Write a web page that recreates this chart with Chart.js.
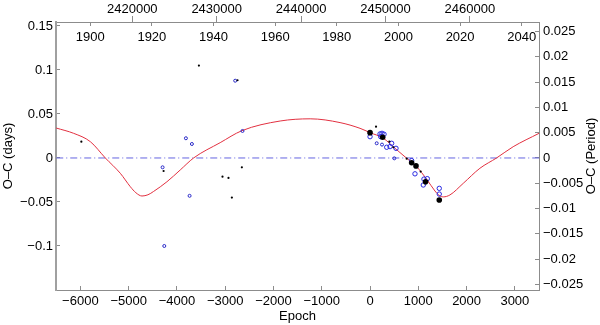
<!DOCTYPE html>
<html>
<head>
<meta charset="utf-8">
<script src="https://cdn.jsdelivr.net/npm/chart.js@4.4.0/dist/chart.umd.min.js"></script>
<style>
  html, body { margin: 0; padding: 0; background: #fff; }
  #ocChart { display: block; }
</style>
</head>
<body>
<canvas id="ocChart" width="600" height="325"></canvas>
<script>
// fitted light-time curve
const fitEpoch = [-6500, -6139, -5793, -5483, -5173, -4966, -4850, -4724, -4600, -4483, -4207, -3931, -3655, -3104, -2655, -1862, -1240, -621, -207, 0, 276, 517, 759, 966, 1173, 1345, 1430, 1517, 1655, 1931, 2276, 2621, 2965, 3500];
const fitOC = [0.034, 0.028, 0.0185, 0, -0.0174, -0.0326, -0.0395, -0.0432, -0.0418, -0.038, -0.027, -0.0136, 0, 0.0174, 0.031, 0.042, 0.0445, 0.0402, 0.0337, 0.0288, 0.0224, 0.011, -0.0003, -0.0099, -0.0242, -0.0375, -0.0425, -0.0442, -0.042, -0.0288, -0.0117, 0, 0.0128, 0.028];

const zeroEpoch = [-6500, 3500];
const zeroOC = [0, 0];

// observed minima
const blackBigEpoch = [0, 262, 862, 952, 1150, 1434];
const blackBigOC = [0.0288, 0.0235, -0.0055, -0.009, -0.027, -0.0477];

const blackSmallEpoch = [-5980, -4276, -3545, -2745, -2655, -3056, -2932, -2862, 124, 400, 483, 759, 1049];
const blackSmallOC = [0.0185, -0.0148, 0.105, 0.0883, -0.0106, -0.0212, -0.0227, -0.045, 0.0356, 0.0186, 0.0122, -0.0008, -0.0155];

const blueBigEpoch = [0, 207, 248, 290, 221, 345, 414, 448, 538, 862, 931, 1117, 1186, 1103, 1434, 1434];
const blueBigOC = [0.0242, 0.0273, 0.028, 0.027, 0.0242, 0.0122, 0.0129, 0.0167, 0.011, -0.003, -0.018, -0.024, -0.0235, -0.0307, -0.0345, -0.041];

const blueSmallEpoch = [-4297, -3814, -3690, -3738, -4262, -2793, -2642, 138, 248, 503];
const blueSmallOC = [-0.0106, 0.0224, 0.0159, -0.043, -0.1, 0.0878, 0.0307, 0.0167, 0.0152, -0.0004];

// axis ranges
const epochRange = [-6505, 3500];
const daysRange = [-0.15, 0.1545];
const periodRange = [-0.15 / 5.75, 0.1545 / 5.75];
const jdRange = [2410960, 2468190];
const yearRange = [1888.9, 2045.6];

const pts = (xs, ys) => xs.map((x, i) => ({ x: x, y: ys[i] }));
const fmt = v => {
  let s = String(+Number(v).toFixed(4));
  if (s === '-0') s = '0';
  return s.replace('-', '\u2212');
};

const font = { family: 'Liberation Sans, Arial, sans-serif', size: 13 };
const frame = '#8c8c8c';

const rightTitle = {
  id: 'rightTitle',
  afterDraw(chart) {
    const c = chart.ctx;
    const a = chart.chartArea;
    c.save();
    c.translate(591, (a.top + a.bottom) / 2);
    c.rotate(-Math.PI / 2);
    c.font = '13px Liberation Sans, Arial, sans-serif';
    c.fillStyle = '#000';
    c.textAlign = 'center';
    c.textBaseline = 'middle';
    c.fillText('O\u2013C (Period)', 0, 0);
    c.restore();
  }
};

const ctx = document.getElementById('ocChart').getContext('2d');
new Chart(ctx, {
  type: 'scatter',
  data: {
    datasets: [
      {
        label: 'blackBig',
        data: pts(blackBigEpoch, blackBigOC),
        pointRadius: 2.8,
        pointBackgroundColor: '#000',
        pointBorderColor: '#000',
        pointBorderWidth: 0
      },
      {
        label: 'blackSmall',
        data: pts(blackSmallEpoch, blackSmallOC),
        pointRadius: 1.1,
        pointBackgroundColor: '#000',
        pointBorderColor: '#000',
        pointBorderWidth: 0
      },
      {
        label: 'blueBig',
        data: pts(blueBigEpoch, blueBigOC),
        pointRadius: 2.2,
        pointBackgroundColor: 'rgba(255,255,255,0)',
        pointBorderColor: 'rgb(40,40,225)',
        pointBorderWidth: 1
      },
      {
        label: 'blueSmall',
        data: pts(blueSmallEpoch, blueSmallOC),
        pointRadius: 1.5,
        pointBackgroundColor: 'rgba(255,255,255,0)',
        pointBorderColor: 'rgb(40,40,200)',
        pointBorderWidth: 1
      },
      {
        label: 'fit',
        data: pts(fitEpoch, fitOC),
        showLine: true,
        cubicInterpolationMode: 'monotone',
        borderColor: 'rgb(226,48,64)',
        borderWidth: 1,
        pointRadius: 0
      },
      {
        label: 'zero',
        data: pts(zeroEpoch, zeroOC),
        showLine: true,
        borderColor: 'rgb(100,100,225)',
        borderWidth: 1,
        borderDash: [7, 3, 1, 3],
        pointRadius: 0
      }
    ]
  },
  options: {
    responsive: false,
    animation: false,
    layout: { padding: 0 },
    plugins: {
      legend: { display: false },
      tooltip: { enabled: false }
    },
    scales: {
      x: {
        type: 'linear',
        position: 'bottom',
        min: epochRange[0],
        max: epochRange[1],
        afterFit: s => { s.height = 35; },
        ticks: { maxTicksLimit: 12, includeBounds: false, padding: 8, color: '#000', font: font, callback: fmt, maxRotation: 0 },
        grid: { drawOnChartArea: false, tickLength: -4, color: frame },
        border: { color: frame, width: 1 },
        title: { display: true, text: 'Epoch', color: '#000', font: font, padding: { top: 0, bottom: 1 } }
      },
      xJD: {
        type: 'linear',
        position: 'top',
        weight: 2,
        min: jdRange[0],
        max: jdRange[1],
        afterFit: s => { s.height = 22; },
        ticks: { includeBounds: false, padding: -0.8, color: '#000', font: font, callback: v => String(v), maxRotation: 0 },
        grid: { drawOnChartArea: false, tickLength: 6, color: frame },
        border: { color: frame, width: 1 }
      },
      xYear: {
        type: 'linear',
        position: 'top',
        weight: 1,
        min: yearRange[0],
        max: yearRange[1],
        afterFit: s => { s.height = 0; },
        ticks: { stepSize: 20, includeBounds: false, mirror: true, padding: 7.7, color: '#000', font: font, callback: v => String(v), maxRotation: 0 },
        grid: { drawOnChartArea: false, tickLength: -4, color: frame },
        border: { color: frame, width: 1 }
      },
      y: {
        type: 'linear',
        position: 'left',
        min: daysRange[0],
        max: daysRange[1],
        afterFit: s => { s.width = 56; },
        ticks: { stepSize: 0.05, includeBounds: false, padding: 7, color: '#000', font: font, callback: fmt },
        grid: { drawOnChartArea: false, tickLength: -4, color: frame },
        border: { color: '#a0a0a0', width: 2 },
        title: { display: true, text: 'O\u2013C (days)', color: '#000', font: font, padding: { top: 1, bottom: 0 } }
      },
      yP: {
        type: 'linear',
        position: 'right',
        min: periodRange[0],
        max: periodRange[1],
        afterFit: s => { s.width = 61; },
        ticks: { stepSize: 0.005, includeBounds: false, padding: 8, color: '#000', font: font, callback: fmt },
        grid: { drawOnChartArea: false, tickLength: -4, color: frame },
        border: { color: frame, width: 1 }
      }
    }
  },
  plugins: [rightTitle]
});
</script>
</body>
</html>
